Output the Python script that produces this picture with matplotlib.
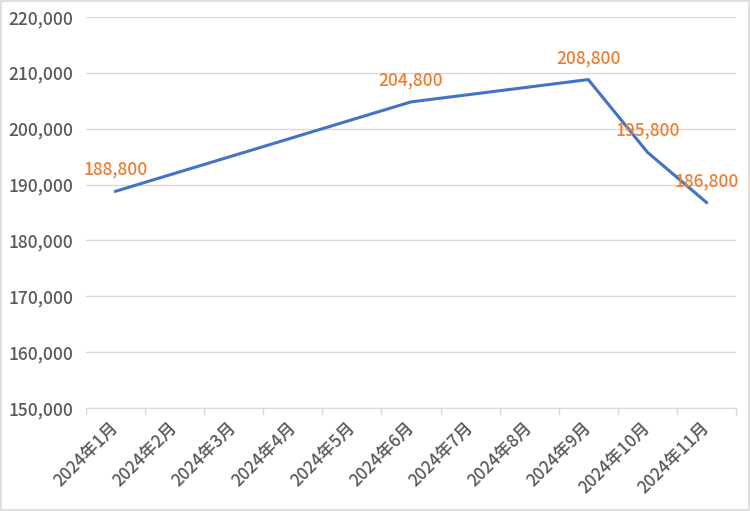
import matplotlib.pyplot as plt
from matplotlib.ticker import FuncFormatter, FixedLocator
import matplotlib.transforms as mtransforms

plt.rcParams['font.family'] = ['Noto Sans CJK JP', 'DejaVu Sans']
plt.rcParams['font.weight'] = 'medium'

# categories of the date axis
months = ["2024年1月", "2024年2月", "2024年3月", "2024年4月", "2024年5月", "2024年6月",
          "2024年7月", "2024年8月", "2024年9月", "2024年10月", "2024年11月"]
# months with a value and the values
point_months = ["2024年1月", "2024年6月", "2024年9月", "2024年10月", "2024年11月"]
values = [188800, 204800, 208800, 195800, 186800]

grey_txt = "#595959"
grid_col = "#D9D9D9"

fig = plt.figure(figsize=(7.5, 5.11), dpi=100)
ax = fig.add_axes([86/750, 1-408/511, 650/750, 391/511])

xs = [months.index(m) for m in point_months]
ax.plot(xs, values, color="#4472C4", linewidth=2.2, solid_joinstyle="miter")

for x, v in zip(xs, values):
    ax.annotate(f"{v:,}", (x, v), xytext=(0, 9), textcoords="offset points",
                ha="center", va="bottom", color="#ED7D31", fontsize=12.5)

ax.set_xlim(-0.5, len(months) - 0.5)
ax.set_ylim(150000, 220000)
ax.set_yticks(range(150000, 220001, 10000))
ax.yaxis.set_major_formatter(FuncFormatter(lambda v, p: f"{int(v):,}"))
ax.grid(axis="y", color=grid_col, linewidth=1)
ax.set_axisbelow(True)

ax.set_xticks(range(len(months)))
ax.set_xticklabels(months, rotation=45, ha="right", va="top", rotation_mode="anchor")
ax.xaxis.set_minor_locator(FixedLocator([i - 0.5 for i in range(len(months) + 1)]))
ax.tick_params(axis="x", which="major", length=0, pad=8, labelsize=12.3, labelcolor=grey_txt)
ax.tick_params(axis="x", which="minor", length=5, color=grid_col, width=1)
ax.tick_params(axis="y", length=0, pad=9, labelsize=12.5, labelcolor=grey_txt)

# nudge the slanted labels a little to the left
shift = mtransforms.ScaledTranslation(-6/100, 0, fig.dpi_scale_trans)
for lab in ax.get_xticklabels():
    lab.set_transform(lab.get_transform() + shift)

for s in ["top", "right", "left"]:
    ax.spines[s].set_visible(False)
ax.spines["bottom"].set_color(grid_col)

# light border round the chart area
fig.patches.append(plt.Rectangle((0.001, 0.001), 0.997, 0.997, transform=fig.transFigure,
                                 fill=False, edgecolor="#D9D9D9", linewidth=1.2))

fig.savefig("out.png", dpi=100)
